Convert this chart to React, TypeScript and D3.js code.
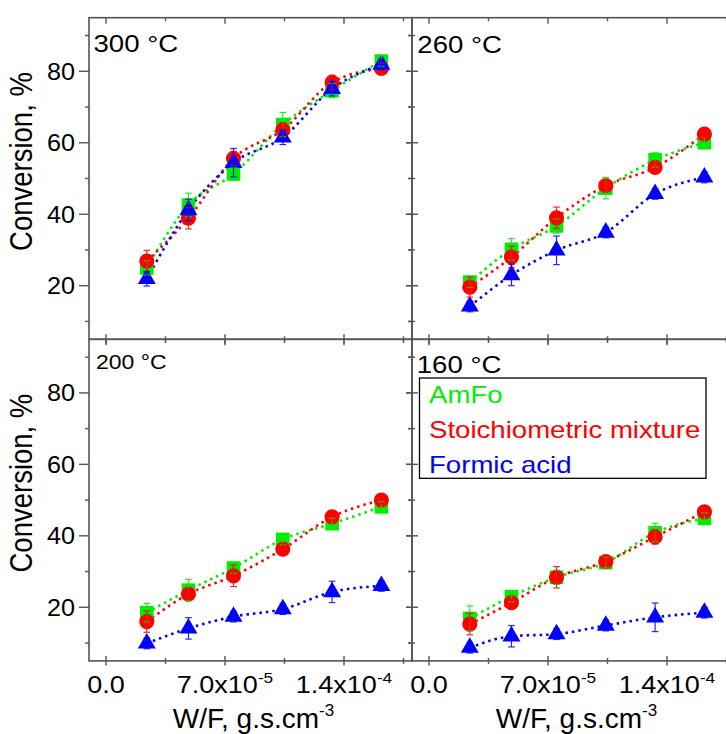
import React from "react";
import * as d3 from "d3";

const xValues = [2.4e-5, 4.85e-5, 7.5e-5, 1.04e-4, 1.33e-4, 1.62e-4];
const xMajorTicks = [0, 7e-5, 1.4e-4];
const xMinorTicks = [3.5e-5, 1.05e-4, 1.75e-4];
const xTickMantissa = ["0.0", "7.0x10", "1.4x10"];
const xTickExponent = ["", "-5", "-4"];
const yMajorTicks = [20, 40, 60, 80];
const yMinorTicks = [10, 30, 50, 70, 90];

const panelTitles = ["300 °C", "260 °C", "200 °C", "160 °C"];
const seriesNames = ["AmFo", "Stoichiometric mixture", "Formic acid"];
const seriesColors = ["#00ee00", "#ff0000", "#0000ff"];

// 300 °C
const amfo300 = [25, 42.6, 51.3, 65.1, 74.6, 82.9];
const amfo300Err = [2, 3.3, 1.7, 3.4, 2, 1.5];
const stoich300 = [26.9, 38.9, 55.6, 63.6, 76.9, 80.8];
const stoich300Err = [3, 3, 2, 2, 2, 1.5];
const formic300 = [21.9, 41.2, 54.4, 61.5, 75.1, 81.9];
const formic300Err = [2, 3, 4, 2, 2, 1.5];

// 260 °C
const amfo260 = [21, 30.2, 36.7, 47.3, 55.2, 60];
const amfo260Err = [1.5, 3, 2, 3, 2, 1.5];
const stoich260 = [19.6, 28, 39, 48, 53.1, 62.4];
const stoich260Err = [2.8, 3, 3, 1.5, 1.5, 1];
const formic260 = [14.2, 23, 29.9, 34.9, 45.7, 50.3];
const formic260Err = [1.5, 3, 4, 1.5, 1.5, 1.5];

// 200 °C
const amfo200 = [18.5, 24.8, 31, 39, 43.4, 48.1];
const amfo200Err = [2.6, 3, 1.5, 1.5, 1.5, 1.5];
const stoich200 = [16, 23.7, 28.8, 36.3, 45.3, 50];
const stoich200Err = [3, 1.5, 3, 1.5, 1, 1];
const formic200 = [9.9, 14.1, 17.4, 19.5, 24.3, 26];
const formic200Err = [1.5, 3, 1.5, 1.5, 3, 1.5];

// 160 °C
const amfo160 = [16.9, 23, 28.4, 32.5, 40.9, 44.9];
const amfo160Err = [3.5, 1.5, 2, 1.5, 2.6, 1.5];
const stoich160 = [15.3, 21.3, 28.4, 32.8, 39.7, 46.7];
const stoich160Err = [3, 1, 3, 1, 2, 1];
const formic160 = [8.7, 11.9, 12.5, 14.9, 17.2, 18.5];
const formic160Err = [1.5, 3, 1.5, 1.5, 4, 1.5];

const panelSeries = [
  [amfo300, stoich300, formic300],
  [amfo260, stoich260, formic260],
  [amfo200, stoich200, formic200],
  [amfo160, stoich160, formic160],
];
const panelErrors = [
  [amfo300Err, stoich300Err, formic300Err],
  [amfo260Err, stoich260Err, formic260Err],
  [amfo200Err, stoich200Err, formic200Err],
  [amfo160Err, stoich160Err, formic160Err],
];

const W = 726;
const H = 734;
const PW = 323;
const PH = 321.6;
const colX = [89, 412];
const rowY = [17.7, 339.3];
const AXIS = "#555";

const titleLayout = [
  { x: 93.5, y: 51.7, size: 24 },
  { x: 417.3, y: 53, size: 24 },
  { x: 96, y: 369.3, size: 20 },
  { x: 416.7, y: 373, size: 24 },
];

function Panel({ idx }: { idx: number }) {
  const col = idx % 2;
  const row = Math.floor(idx / 2);
  const x0 = colX[col];
  const y0 = rowY[row];
  const x = d3.scaleLinear().domain([-1e-5, 1.8e-4]).range([x0, x0 + PW]);
  const y = d3.scaleLinear().domain([5, 95]).range([y0 + PH, y0]);
  const line = d3
    .line<number>()
    .x((_, i) => x(xValues[i]))
    .y((d) => y(d))
    .curve(d3.curveMonotoneX);
  const symbols = [
    d3.symbol().type(d3.symbolSquare).size(185)(),
    d3.symbol().type(d3.symbolCircle).size(180)(),
    d3.symbol().type(d3.symbolTriangle).size(140)(),
  ];
  const series = panelSeries[idx];
  const errs = panelErrors[idx];
  const isLeft = col === 0;
  const isBottom = row === 1;
  const tl = titleLayout[idx];
  return (
    <g>
      <clipPath id={`clip${idx}`}>
        <rect x={x0} y={y0} width={PW} height={PH} />
      </clipPath>
      <g clipPath={`url(#clip${idx})`}>
        {series.map((s, si) => (
          <path
            key={"l" + si}
            d={line(s) || ""}
            fill="none"
            stroke={seriesColors[si]}
            strokeWidth={2.6}
            strokeDasharray="2.5,4"
          />
        ))}
        {series.map((s, si) =>
          s.map((v, i) => (
            <path
              key={`m${si}-${i}`}
              d={symbols[si] || ""}
              transform={`translate(${x(xValues[i])},${y(v)})`}
              fill={seriesColors[si]}
            />
          ))
        )}
        {series.map((s, si) =>
          s.map((v, i) => {
            const cx = x(xValues[i]);
            const e = errs[si][i];
            const t = y(v + e);
            const b = y(v - e);
            return (
              <g key={`e${si}-${i}`} stroke={seriesColors[si]} strokeWidth={1.2} opacity={0.85}>
                <line x1={cx} x2={cx} y1={t} y2={b} />
                <line x1={cx - 3.3} x2={cx + 3.3} y1={t} y2={t} />
                <line x1={cx - 3.3} x2={cx + 3.3} y1={b} y2={b} />
              </g>
            );
          })
        )}
      </g>
      <rect x={x0} y={y0} width={PW} height={PH} fill="none" stroke={AXIS} strokeWidth={1.6} />
      {xMajorTicks.map((t) => (
        <g key={"xM" + t} stroke={AXIS} strokeWidth={1.4}>
          <line x1={x(t)} x2={x(t)} y1={y0} y2={y0 + 6} />
          <line x1={x(t)} x2={x(t)} y1={y0 + PH - 5} y2={y0 + PH + 4.5} />
        </g>
      ))}
      {xMinorTicks.map((t) => (
        <g key={"xm" + t} stroke={AXIS} strokeWidth={1.4}>
          <line x1={x(t)} x2={x(t)} y1={y0} y2={y0 + 3.5} />
          <line x1={x(t)} x2={x(t)} y1={y0 + PH - 3} y2={y0 + PH + 3} />
        </g>
      ))}
      {yMajorTicks.map((t) => (
        <g key={"yM" + t} stroke={AXIS} strokeWidth={1.4}>
          <line x1={x0 - (isLeft ? 10 : 6)} x2={isLeft ? x0 : x0 + 6} y1={y(t)} y2={y(t)} />
          <line x1={x0 + PW - 6} x2={x0 + PW} y1={y(t)} y2={y(t)} />
        </g>
      ))}
      {yMinorTicks.map((t) => (
        <g key={"ym" + t} stroke={AXIS} strokeWidth={1.4}>
          <line x1={x0 - 4} x2={isLeft ? x0 : x0 + 3} y1={y(t)} y2={y(t)} />
          <line x1={x0 + PW - 3.5} x2={x0 + PW} y1={y(t)} y2={y(t)} />
        </g>
      ))}
      {isLeft &&
        yMajorTicks.map((t) => (
          <text
            key={"yl" + t}
            transform={`translate(75,${y(t)}) scale(1.05,1)`}
            dy="0.35em"
            textAnchor="end"
            fontSize={24}
            fill="#000"
          >
            {t}
          </text>
        ))}
      {isLeft && (
        <text
          transform={`translate(32,${y0 + PH / 2 - 17}) scale(1.12,1) rotate(-90)`}
          textAnchor="middle"
          fontSize={27.5}
          fill="#000"
        >
          Conversion, %
        </text>
      )}
      {isBottom &&
        xMajorTicks.map((t, i) => (
          <text
            key={"xl" + t}
            transform={`translate(${x(t)},693.3) scale(1.15,1)`}
            textAnchor="middle"
            fontSize={23.5}
            fill="#000"
          >
            {xTickMantissa[i]}
            {xTickExponent[i] && (
              <tspan fontSize={15} dy={-10}>
                {xTickExponent[i]}
              </tspan>
            )}
          </text>
        ))}
      {isBottom && (
        <text x={x0 + PW / 2 + 3} y={728} textAnchor="middle" fontSize={28} fill="#000">
          W/F, g.s.cm
          <tspan fontSize={17} dy={-12}>
            -3
          </tspan>
        </text>
      )}
      <text
        transform={`translate(${tl.x},${tl.y}) scale(1.15,1)`}
        fontSize={tl.size}
        fill="#000"
      >
        {panelTitles[idx]}
      </text>
    </g>
  );
}

function Legend() {
  const bx = 419.5;
  const by = 378;
  const baselines = [403.3, 438.2, 472.8];
  return (
    <g>
      <rect x={bx} y={by} width={286.5} height={100.3} fill="#fff" stroke="#000" strokeWidth={1.3} />
      {seriesNames.map((n, i) => (
        <text
          key={n}
          transform={`translate(429,${baselines[i]}) scale(1.2,1)`}
          fontSize={23}
          fill={seriesColors[i]}
        >
          {n}
        </text>
      ))}
    </g>
  );
}

export default function App() {
  return (
    <svg
      width={W}
      height={H}
      style={{ position: "absolute", left: 0, top: 0, overflow: "hidden", background: "#fff" }}
      fontFamily="'Liberation Sans', Arial, sans-serif"
    >
      <rect width={W} height={H} fill="#fff" />
      {[0, 1, 2, 3].map((i) => (
        <Panel key={i} idx={i} />
      ))}
      <Legend />
    </svg>
  );
}
